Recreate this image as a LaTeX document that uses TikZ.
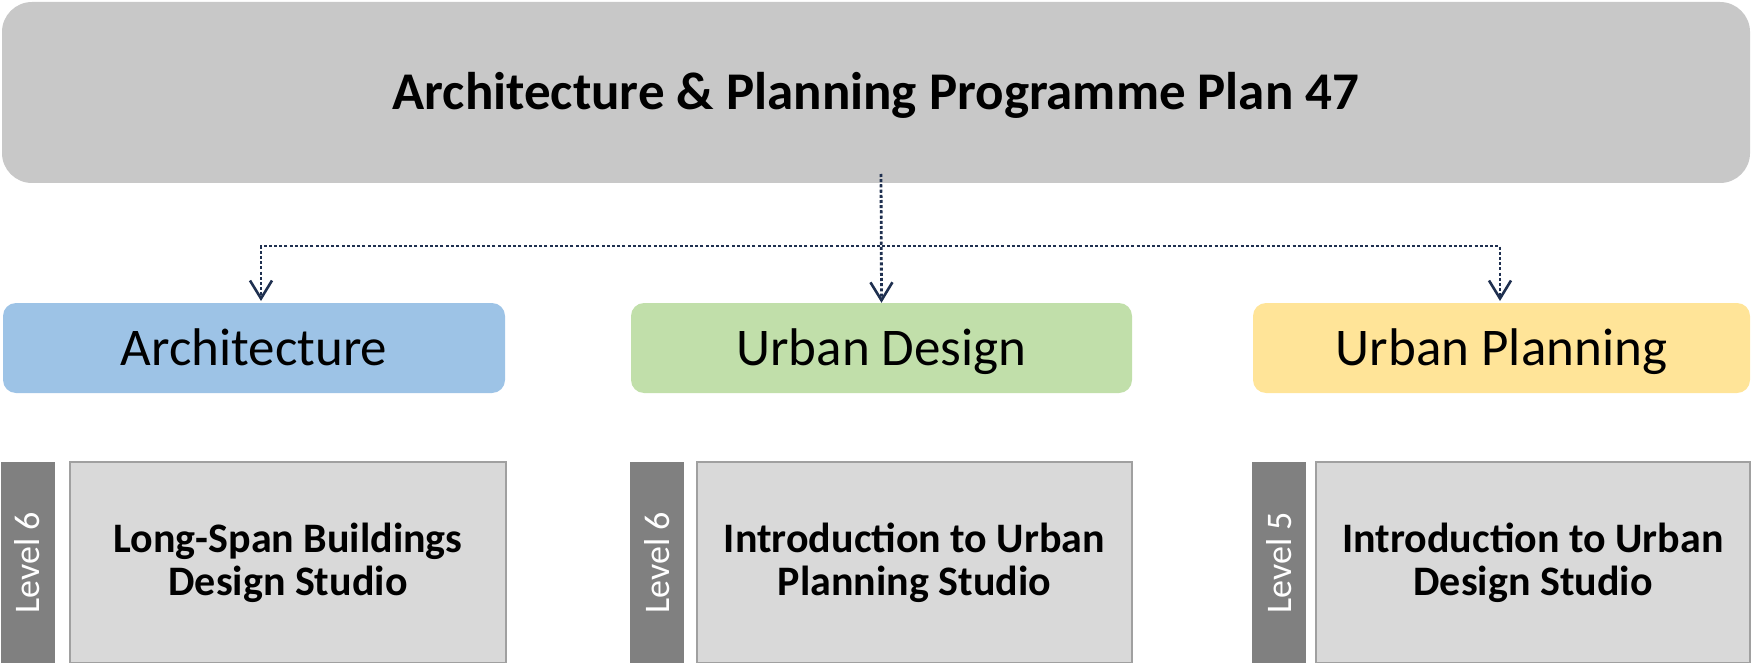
\documentclass[tikz,border=0pt]{standalone}
\usepackage{fontspec}
\setmainfont{Carlito}
\usetikzlibrary{arrows.meta}
\definecolor{topgray}{HTML}{C8C8C8}
\definecolor{archblue}{HTML}{9DC3E6}
\definecolor{udgreen}{HTML}{C1DFAA}
\definecolor{upyellow}{HTML}{FFE498}
\definecolor{modfill}{HTML}{D9D9D9}
\definecolor{modline}{HTML}{A0A0A0}
\definecolor{barfill}{HTML}{808080}
\definecolor{navy}{HTML}{1F3050}
\tikzset{
  topbox/.style={fill=topgray, rounded corners=30pt, minimum width=1748pt, minimum height=181pt, inner sep=0pt, text height=35pt, text depth=0pt, font=\fontsize{53}{60}\selectfont\bfseries},
  catbox/.style={rounded corners=13pt, minimum height=90pt, inner sep=0pt, text height=35pt, text depth=0pt, font=\fontsize{53}{60}\selectfont},
  modbox/.style={fill=modfill, draw=modline, line width=1.5pt, inner sep=0pt},
  modtext/.style={align=center, font=\fontsize{42}{43}\selectfont\bfseries},
  levelbar/.style={fill=barfill, minimum width=54pt, minimum height=201pt, inner sep=0pt},
  leveltext/.style={rotate=90, text=white, font=\fontsize{36}{40}\selectfont},
  conn/.style={draw=navy, line width=2.8pt, dash pattern=on 3pt off 2.2pt, -{Straight Barb[length=18pt,width=22pt,line width=2.6pt]}}
}
\begin{document}
\begin{tikzpicture}[x=1pt,y=-1pt]
\useasboundingbox (0,0) rectangle (1752,663);
\node[topbox] (top) at (876,92.5) {Architecture \& Planning Programme Plan 47};

\node[catbox, fill=archblue, minimum width=502pt] (arch) at (254,348) {Architecture};
\node[catbox, fill=udgreen, minimum width=501pt] (ud) at (881.5,348) {Urban Design};
\node[catbox, fill=upyellow, minimum width=497pt] (up) at (1501.5,348) {Urban Planning};

\coordinate (src) at (881,174);
\coordinate (tl) at (261,301);
\coordinate (tr) at (1500,301);
\draw[conn] (src) -- (881,246) -| (tl);
\draw[conn] (src) -- (881,246) -| (tr);
\draw[conn] (src) -- (ud.north);

\node[levelbar] (b1) at (27.5,562.5) {};
\node[levelbar] (b2) at (657,562.5) {};
\node[levelbar] (b3) at (1279,562.5) {};
\node[leveltext] (l1) at (b1) {Level 6};
\node[leveltext] (l2) at (b2) {Level 6};
\node[leveltext] (l3) at (b3) {Level 5};

\node[modbox, minimum width=436pt, minimum height=201pt] (m1) at (288,562.5) {};
\node[modbox, minimum width=435pt, minimum height=201pt] (m2) at (914.5,562.5) {};
\node[modbox, minimum width=434pt, minimum height=201pt] (m3) at (1533,562.5) {};
\node[modtext] (t1) at (m1.center) {Long-Span Buildings\\Design Studio};
\node[modtext] (t2) at (m2.center) {Introduction to Urban\\Planning Studio};
\node[modtext] (t3) at (m3.center) {Introduction to Urban\\Design Studio};
\end{tikzpicture}
\end{document}
